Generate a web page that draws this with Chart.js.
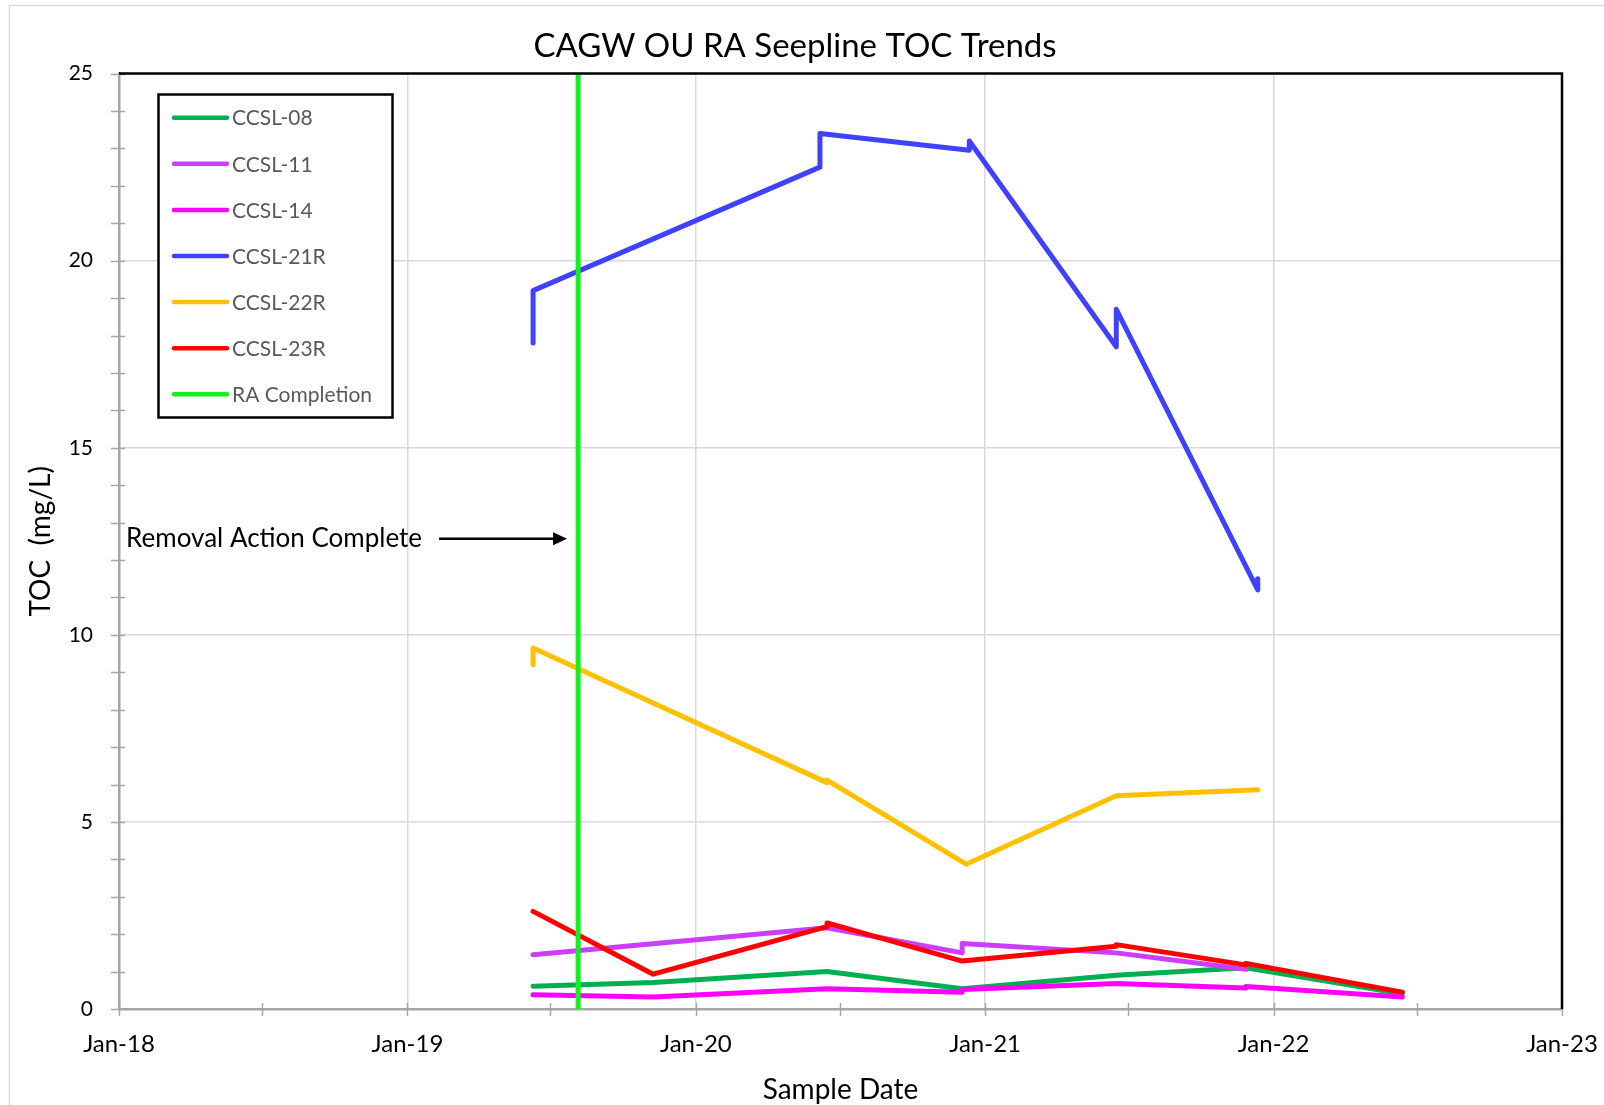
<!DOCTYPE html>
<html>
<head>
<meta charset="utf-8">
<title>CAGW OU RA Seepline TOC Trends</title>
<script src="https://cdn.jsdelivr.net/npm/chart.js@4.4.1/dist/chart.umd.min.js"></script>
<style>
  html, body { margin: 0; padding: 0; background: #fff; }
</style>
</head>
<body>
<canvas id="tocChart" width="1604" height="1105"></canvas>
<script>
// sample dates + TOC values (mg/L)
const ccsl08Dates  = ['2019-06-09', '2019-11-08', '2020-06-15', '2020-12-03', '2021-06-16', '2021-11-27', '2022-06-13'];
const ccsl08Values = [0.61, 0.71, 1.0, 0.54, 0.9, 1.1, 0.41];

const ccsl11Dates  = ['2019-06-09', '2020-06-15', '2020-12-03', '2020-12-03', '2021-06-16', '2021-11-27'];
const ccsl11Values = [1.45, 2.17, 1.5, 1.75, 1.5, 1.06];

const ccsl14Dates  = ['2019-06-09', '2019-11-08', '2020-06-15', '2020-12-03', '2020-12-03', '2021-06-16', '2021-11-27', '2021-11-27', '2022-06-13'];
const ccsl14Values = [0.38, 0.32, 0.54, 0.45, 0.52, 0.68, 0.56, 0.6, 0.32];

const ccsl21rDates  = ['2019-06-09', '2019-06-09', '2020-06-06', '2020-06-06', '2020-12-12', '2020-12-12', '2021-06-16', '2021-06-16', '2021-12-12', '2021-12-12'];
const ccsl21rValues = [17.8, 19.2, 22.5, 23.4, 22.95, 23.2, 17.7, 18.7, 11.2, 11.5];

const ccsl22rDates  = ['2019-06-09', '2019-06-09', '2020-06-15', '2020-06-15', '2020-12-08', '2021-06-16', '2021-12-12'];
const ccsl22rValues = [9.2, 9.65, 6.05, 6.12, 3.87, 5.7, 5.86];

const ccsl23rDates  = ['2019-06-09', '2019-11-08', '2020-06-15', '2020-06-15', '2020-12-03', '2021-06-16', '2021-06-16', '2021-11-27', '2021-11-27', '2022-06-13'];
const ccsl23rValues = [2.61, 0.93, 2.2, 2.3, 1.28, 1.68, 1.72, 1.18, 1.22, 0.45];

const raDates  = ['2019-08-05', '2019-08-05'];
const raValues = [0, 25];

const seriesNames  = ['CCSL-08', 'CCSL-11', 'CCSL-14', 'CCSL-21R', 'CCSL-22R', 'CCSL-23R', 'RA Completion'];
const seriesColors = ['#00B050', '#CC3DFF', '#FF00FF', '#4040FF', '#FFC000', '#FF0000', '#14F01E'];

const yearTicks = ['2018-01-01', '2019-01-01', '2020-01-01', '2021-01-01', '2022-01-01', '2023-01-01'];
const midYearTicks = ['2018-07-01', '2019-07-01', '2020-07-01', '2021-07-01', '2022-07-01'];
const monthNames = ['Jan', 'Feb', 'Mar', 'Apr', 'May', 'Jun', 'Jul', 'Aug', 'Sep', 'Oct', 'Nov', 'Dec'];

// "Removal Action Complete" note
const noteText = 'Removal Action Complete';
const noteAt = ['2018-01-10', 12.57];
const arrowFrom = '2019-02-10';
const arrowTo = '2019-07-22';

const toMs = d => Date.parse(d + 'T00:00:00Z');
const pts = (dates, vals) => dates.map((d, i) => ({ x: toMs(d), y: vals[i] }));

const allData = [
  pts(ccsl08Dates, ccsl08Values),
  pts(ccsl11Dates, ccsl11Values),
  pts(ccsl14Dates, ccsl14Values),
  pts(ccsl21rDates, ccsl21rValues),
  pts(ccsl22rDates, ccsl22rValues),
  pts(ccsl23rDates, ccsl23rValues),
  pts(raDates, raValues)
];

const FONT = 'Lato';
const AXIS_GRAY = '#A6A6A6';

// axis tick marks, black frame, legend box and the note
const extras = {
  id: 'extras',
  afterDraw(chart) {
    const { ctx, chartArea: a, scales: { x, y } } = chart;
    ctx.save();

    // tick marks crossing the axes
    ctx.strokeStyle = AXIS_GRAY;
    ctx.lineWidth = 1.5;
    ctx.beginPath();
    for (let v = 0; v <= 25; v++) {
      const py = Math.round(y.getPixelForValue(v)) + 0.5;
      ctx.moveTo(a.left - 8, py);
      ctx.lineTo(a.left + 6, py);
    }
    yearTicks.concat(midYearTicks).forEach(d => {
      const px = Math.round(x.getPixelForValue(toMs(d))) + 0.5;
      ctx.moveTo(px, a.bottom - 6);
      ctx.lineTo(px, a.bottom + 7);
    });
    ctx.stroke();

    // black top / right frame
    ctx.strokeStyle = '#000';
    ctx.lineWidth = 2.5;
    ctx.beginPath();
    ctx.moveTo(a.left, a.top);
    ctx.lineTo(a.right, a.top);
    ctx.lineTo(a.right, a.bottom);
    ctx.stroke();

    // outer chart border
    ctx.strokeStyle = '#D9D9D9';
    ctx.lineWidth = 1.5;
    ctx.strokeRect(9.5, 5.5, chart.width, chart.height);

    // legend
    const lx = 158.5, ly = 94.5, lw = 234, lh = 323;
    ctx.fillStyle = '#fff';
    ctx.fillRect(lx, ly, lw, lh);
    ctx.strokeStyle = '#000';
    ctx.lineWidth = 2.5;
    ctx.strokeRect(lx, ly, lw, lh);
    ctx.font = '21px ' + FONT;
    ctx.textBaseline = 'middle';
    ctx.textAlign = 'left';
    ctx.lineCap = 'round';
    seriesNames.forEach((name, i) => {
      const ry = 117.7 + i * 46.1;
      ctx.strokeStyle = seriesColors[i];
      ctx.lineWidth = 4.5;
      ctx.beginPath();
      ctx.moveTo(174, ry);
      ctx.lineTo(227, ry);
      ctx.stroke();
      ctx.fillStyle = '#595959';
      ctx.fillText(name, 232, ry + 1);
    });

    // note + arrow
    const ty = y.getPixelForValue(noteAt[1]);
    ctx.fillStyle = '#000';
    ctx.font = '26px ' + FONT;
    ctx.fillText(noteText, x.getPixelForValue(toMs(noteAt[0])), ty);
    const x0 = x.getPixelForValue(toMs(arrowFrom));
    const x1 = x.getPixelForValue(toMs(arrowTo));
    ctx.strokeStyle = '#000';
    ctx.lineWidth = 2.5;
    ctx.lineCap = 'butt';
    ctx.beginPath();
    ctx.moveTo(x0, ty);
    ctx.lineTo(x1 - 12, ty);
    ctx.stroke();
    ctx.beginPath();
    ctx.moveTo(x1, ty);
    ctx.lineTo(x1 - 14, ty - 6.5);
    ctx.lineTo(x1 - 14, ty + 6.5);
    ctx.closePath();
    ctx.fill();

    ctx.restore();
  }
};

new Chart(document.getElementById('tocChart'), {
  type: 'line',
  data: {
    datasets: allData.map((data, i) => ({
      label: seriesNames[i],
      data: data,
      borderColor: seriesColors[i],
      backgroundColor: seriesColors[i],
      borderWidth: 5,
      borderCapStyle: 'round',
      borderJoinStyle: 'round',
      pointRadius: 0,
      tension: 0,
      fill: false,
      order: seriesNames.length - i   // later series on top, like the original
    }))
  },
  options: {
    responsive: false,
    animation: false,
    events: [],
    layout: { padding: { left: 13, right: 27, top: 0, bottom: 0 } },
    plugins: {
      legend: { display: false },
      tooltip: { enabled: false },
      title: {
        display: true,
        text: 'CAGW OU RA Seepline TOC Trends',
        color: '#000',
        font: { family: FONT, size: 33, weight: 'normal' },
        padding: { top: 27, bottom: 7 }
      }
    },
    scales: {
      x: {
        type: 'linear',
        min: toMs(yearTicks[0]),
        max: toMs(yearTicks[yearTicks.length - 1]),
        afterBuildTicks: s => { s.ticks = yearTicks.map(d => ({ value: toMs(d) })); },
        afterFit: s => {
          s.height = 96;
          s.paddingLeft = 0;
          s.paddingRight = 42;   // plot ends 42px from the right edge
        },
        ticks: {
          autoSkip: false,
          maxRotation: 0,
          padding: 21,
          color: '#000',
          font: { family: FONT, size: 24 },
          callback: v => {
            const d = new Date(v);
            return monthNames[d.getUTCMonth()] + '-' + String(d.getUTCFullYear()).slice(2);
          }
        },
        grid: { color: '#D9D9D9', lineWidth: 1.5, drawTicks: false },
        border: { color: AXIS_GRAY, width: 2.5 },
        title: {
          display: true,
          text: 'Sample Date',
          color: '#000',
          font: { family: FONT, size: 28, lineHeight: 1 },
          padding: { top: 0, bottom: 1.5 }
        }
      },
      y: {
        min: 0,
        max: 25,
        afterFit: s => { s.width = 106; },
        ticks: {
          stepSize: 5,
          padding: 26,
          color: '#000',
          font: { family: FONT, size: 21 }
        },
        grid: { color: '#D9D9D9', lineWidth: 1.5, drawTicks: false },
        border: { color: AXIS_GRAY, width: 2.5 },
        title: {
          display: true,
          text: 'TOC  (mg/L)',
          color: '#000',
          font: { family: FONT, size: 28 },
          padding: { top: 11, bottom: 0 }
        }
      }
    }
  },
  plugins: [extras]
});
</script>
</body>
</html>
